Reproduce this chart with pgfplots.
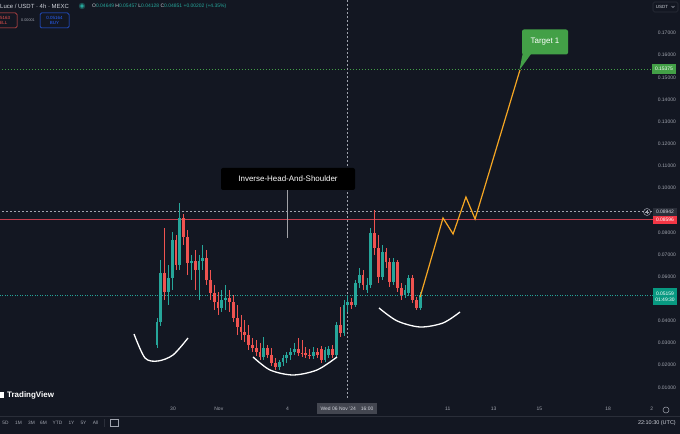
\documentclass[border=0pt]{standalone}
\usepackage{fontspec}
\setmainfont{Liberation Sans}
\usepackage{pgfplots}
\pgfplotsset{compat=1.18}
\usepackage{pgfplotstable}

\definecolor{bg}{RGB}{19,23,34}
\definecolor{up}{RGB}{38,166,154}
\definecolor{dn}{RGB}{239,83,80}
\definecolor{axtxt}{RGB}{160,164,174}
\definecolor{hdr}{RGB}{209,212,220}
\definecolor{orng}{RGB}{245,166,35}
\definecolor{tgt}{RGB}{67,160,71}
\definecolor{lvl}{RGB}{196,62,78}
\definecolor{sep}{RGB}{42,46,57}
\definecolor{buy}{RGB}{41,98,255}

% 4h candles, x in days from 30 Oct
\pgfplotstableread{
t o h l c
-0.700 0.02915 0.04134 0.02779 0.03953
-0.533 0.03953 0.06752 0.03772 0.06166
-0.200 0.05308 0.06527 0.04721 0.05940
-0.033 0.05940 0.08016 0.05398 0.07655
0.300 0.06527 0.09325 0.06301 0.08648
0.800 0.06617 0.06978 0.05849 0.06707
1.133 0.06301 0.06978 0.04946 0.06707
1.300 0.06707 0.07429 0.06301 0.06842
2.133 0.04585 0.05398 0.04404 0.04946
2.300 0.04946 0.05624 0.04495 0.05037
3.967 0.02373 0.03276 0.02238 0.02779
4.633 0.01921 0.02238 0.01786 0.02147
4.800 0.02147 0.02463 0.01967 0.02328
4.967 0.02328 0.02599 0.02102 0.02463
5.133 0.02463 0.02779 0.02238 0.02599
5.300 0.02599 0.03005 0.02463 0.02734
6.133 0.02418 0.02824 0.02283 0.02599
6.633 0.02238 0.02824 0.02147 0.02689
6.800 0.02463 0.02869 0.02328 0.02734
7.133 0.02463 0.03953 0.02328 0.03818
7.467 0.03456 0.04946 0.03321 0.04721
7.633 0.04721 0.05127 0.04404 0.04856
7.967 0.04721 0.05849 0.04630 0.05714
8.133 0.05714 0.06391 0.05488 0.06075
8.467 0.05398 0.05940 0.05263 0.05624
8.633 0.05624 0.08197 0.05488 0.07971
9.133 0.05985 0.07429 0.05849 0.07113
9.633 0.05759 0.06842 0.05624 0.06662
10.133 0.05172 0.05624 0.05037 0.05398
10.300 0.05263 0.06075 0.05127 0.05940
10.800 0.04585 0.05308 0.04495 0.05172
}\upc

\pgfplotstableread{
t o h l c
-0.367 0.06166 0.08197 0.04946 0.05308
0.133 0.07655 0.07880 0.06301 0.06527
0.467 0.08648 0.08829 0.07429 0.07790
0.633 0.07790 0.08106 0.06075 0.06617
0.967 0.06707 0.07203 0.05398 0.06301
1.467 0.06842 0.07203 0.05624 0.05849
1.633 0.05849 0.06301 0.04946 0.05263
1.800 0.05263 0.05624 0.04495 0.04856
1.967 0.04856 0.05308 0.04269 0.04585
2.467 0.05037 0.05398 0.04404 0.04856
2.633 0.04856 0.05172 0.03953 0.04134
2.800 0.04134 0.04721 0.03366 0.03727
2.967 0.03727 0.04269 0.03140 0.03502
3.133 0.03502 0.04043 0.03050 0.03366
3.300 0.03366 0.03818 0.02689 0.02915
3.467 0.02915 0.03231 0.02599 0.02779
3.633 0.02779 0.03140 0.02418 0.02599
3.800 0.02599 0.03005 0.02238 0.02373
4.133 0.02779 0.02915 0.02328 0.02463
4.300 0.02463 0.02779 0.01967 0.02102
4.467 0.02102 0.02328 0.01786 0.01921
5.467 0.02734 0.03231 0.02418 0.02553
5.633 0.02553 0.03140 0.02373 0.02508
5.800 0.02553 0.02824 0.02328 0.02463
5.967 0.02463 0.02734 0.02283 0.02418
6.300 0.02599 0.02779 0.02328 0.02463
6.467 0.02734 0.02869 0.02102 0.02238
6.967 0.02734 0.02915 0.02328 0.02463
7.300 0.03818 0.04630 0.03276 0.03456
7.800 0.04856 0.05037 0.04540 0.04721
8.300 0.06075 0.06301 0.05398 0.05624
8.800 0.07971 0.09009 0.06978 0.07294
8.967 0.07294 0.07880 0.05714 0.05985
9.300 0.07113 0.07294 0.06391 0.06662
9.467 0.06662 0.06842 0.05533 0.05759
9.800 0.06662 0.06752 0.05308 0.05488
9.967 0.05488 0.05714 0.04946 0.05172
10.467 0.05940 0.06075 0.04811 0.04946
10.633 0.04946 0.05082 0.04495 0.04585
}\dnc

\begin{document}
\begin{tikzpicture}[x=1bp,y=1bp]
\useasboundingbox (0,0) rectangle (680,434);
\clip (0,0) rectangle (680,434);
\fill[bg] (0,0) rectangle (680,434);

\begin{axis}[
  at={(0bp,34bp)}, anchor=south west,
  width=653bp, height=400bp, scale only axis,
  xmin=-7.555, xmax=20.96,
  ymin=0.00431, ymax=0.1849,
  axis line style={draw=none},
  major tick length=0pt,
  xtick={0,2,5,12,14,16,19,20.9},
  xticklabels={30,Nov,4,11,13,15,18,2},
  xticklabel style={inner sep=0pt, yshift=-7bp, text=axtxt, font=\fontsize{5}{6}\selectfont},
  ytick={0.01,0.02,0.03,0.04,0.06,0.07,0.08,0.10,0.11,0.12,0.13,0.14,0.15,0.16,0.17},
  yticklabel pos=right,
  scaled y ticks=false,
  yticklabel style={anchor=east, xshift=23bp, inner sep=0pt, text=axtxt,
    font=\fontsize{5}{6}\selectfont,
    /pgf/number format/.cd, fixed, fixed zerofill, precision=5, assume math mode=true},
  candle/.style={only marks, mark=*, mark size=0pt, mark options={draw=none, fill=none},
    error bars/.cd, y dir=plus, y explicit, error mark=none},
]
% level lines
\addplot[tgt, dash pattern=on 1.5bp off 1.5bp, line width=0.6bp] coordinates {(-8,0.15375) (22,0.15375)};
\addplot[axtxt, dash pattern=on 2bp off 2bp, line width=0.5bp] coordinates {(-8,0.08942) (22,0.08942)};
\addplot[lvl, line width=0.9bp] coordinates {(-8,0.08596) (22,0.08596)};
\addplot[up, dash pattern=on 1bp off 1.5bp, line width=0.5bp] coordinates {(-8,0.05159) (22,0.05159)};
\addplot[axtxt, dash pattern=on 2bp off 2bp, line width=0.5bp] coordinates {(7.6,0) (7.6,0.19)};

% wicks
\addplot[candle, error bar style={draw=up, line width=0.8bp}]
  table[x=t, y=l, y error expr=\thisrow{h}-\thisrow{l}] {\upc};
\addplot[candle, error bar style={draw=dn, line width=0.8bp}]
  table[x=t, y=l, y error expr=\thisrow{h}-\thisrow{l}] {\dnc};
% bodies
\addplot[candle, error bar style={draw=up, line width=2.8bp}]
  table[x=t, y=o, y error expr=\thisrow{c}-\thisrow{o}] {\upc};
\addplot[candle, error bar style={draw=dn, line width=2.8bp}]
  table[x=t, y=c, y error expr=\thisrow{o}-\thisrow{c}] {\dnc};

% hand-drawn shoulders and head
\addplot[white, line width=1.3bp, smooth] coordinates {
  (-1.703,0.03411) (-1.223,0.02327) (-0.655,0.02192) (0,0.02463) (0.655,0.03230)};
\addplot[white, line width=1.3bp, smooth] coordinates {
  (3.493,0.02373) (4.236,0.01786) (5.240,0.01560) (6.288,0.01786) (7.162,0.02373)};
\addplot[white, line width=1.3bp, smooth] coordinates {
  (8.996,0.04585) (9.782,0.04003) (10.786,0.03727) (11.790,0.03908) (12.533,0.04404)};

% projected path
\addplot[orng, line width=1.2bp] coordinates {
  (10.79,0.05082) (11.79,0.08648) (12.23,0.07925) (12.79,0.09596) (13.19,0.08603) (15.15,0.1533)};
\end{axis}

% callouts
\draw[white!60!bg, line width=0.6bp] (287,244) -- (287,196);
\node[fill=black, rounded corners=2bp, minimum width=134bp, minimum height=22bp, inner sep=0pt,
  text=white, font=\fontsize{8}{9}\selectfont] at (288,255) {Inverse-Head-And-Shoulder};
\fill[tgt] (523,382) -- (531,380) -- (519.5,364) -- cycle;
\node[fill=tgt, rounded corners=2bp, minimum width=46bp, minimum height=25bp, inner sep=0pt,
  text=white, font=\fontsize{8}{9}\selectfont] at (545,392) {Target 1};

% watermark
\fill[white] (0,36) rectangle (4,42);
\node[anchor=west, inner sep=0pt, text=white, font=\fontsize{8}{9}\selectfont\bfseries] at (7,39) {TradingView};

% price scale tags
\node[fill=tgt, text=white, inner sep=0pt, minimum width=24bp, minimum height=10bp,
  font=\fontsize{5}{6}\selectfont] at (664,365) {0.15375};
\node[fill=sep, text=hdr, inner sep=0pt, minimum width=24bp, minimum height=8bp,
  font=\fontsize{5}{6}\selectfont] at (665,222) {0.08942};
\draw[axtxt, line width=0.5bp] (647,222) circle (3.5bp);
\draw[axtxt, line width=0.5bp] (645.3,222) -- (648.7,222) (647,220.3) -- (647,223.7);
\node[fill={rgb,255:red,242;green,54;blue,69}, text=white, inner sep=0pt, minimum width=24bp, minimum height=8bp,
  font=\fontsize{5}{6}\selectfont] at (665,214) {0.08596};
\node[fill={rgb,255:red,8;green,153;blue,129}, text=white, inner sep=0pt, minimum width=24bp, minimum height=17bp,
  align=center, font=\fontsize{5}{6}\selectfont] at (665,137.5) {0.05159\\01:49:30};

% crosshair time tag
\node[fill={rgb,255:red,67;green,70;blue,80}, text=hdr, inner sep=0pt, minimum width=60bp, minimum height=11bp,
  font=\fontsize{5}{6}\selectfont] at (347,25) {Wed 06 Nov '24\quad 16:00};
\draw[axtxt, line width=0.5bp] (666,24) circle (3bp);

% bottom toolbar
\draw[sep, line width=0.8bp] (0,18) -- (680,18);
\begin{scope}[every node/.style={inner sep=0pt, text=axtxt, font=\fontsize{4.8}{5}\selectfont}]
\node at (5.5,11) {5D};
\node at (18.5,11) {1M};
\node at (31.5,11) {3M};
\node at (43.5,11) {6M};
\node at (57.5,11) {YTD};
\node at (71.5,11) {1Y};
\node at (83.5,11) {5Y};
\node at (95.5,11) {All};
\end{scope}
\draw[sep, line width=0.6bp] (104,7) -- (104,15);
\draw[axtxt, line width=0.5bp] (110,7.5) rectangle (118,14.5);
\node[anchor=east, inner sep=0pt, text=hdr, font=\fontsize{5.5}{6}\selectfont] at (676,11) {22:10:30 (UTC)};

% header
\node[anchor=west, inner sep=0pt, text=hdr, font=\fontsize{6}{7}\selectfont] at (0,428) {Luce / USDT · 4h · MEXC};
\fill[up!40!bg] (82,428) circle (3.2bp);
\fill[up] (82,428) circle (1.8bp);
\node[anchor=west, inner sep=0pt, font=\fontsize{5}{6}\selectfont] at (92,428)
  {\textcolor{hdr}{O}\textcolor{up}{0.04649} \textcolor{hdr}{H}\textcolor{up}{0.05457} \textcolor{hdr}{L}\textcolor{up}{0.04128} \textcolor{hdr}{C}\textcolor{up}{0.04851} \textcolor{up}{+0.00202 (+4.35\%)}};
\draw[dn, rounded corners=1.5bp, line width=0.5bp] (-13,406) rectangle (17,421);
\node[inner sep=0pt, text=dn, align=center, font=\fontsize{4.5}{5}\selectfont] at (2,413.5) {0.05163\\SELL};
\node[inner sep=0pt, text=axtxt, font=\fontsize{3.8}{4}\selectfont] at (28,414) {0.00001};
\draw[buy, rounded corners=1.5bp, line width=0.5bp] (40,406) rectangle (69,421);
\node[inner sep=0pt, text=buy, align=center, font=\fontsize{4.5}{5}\selectfont] at (54.5,413.5) {0.05164\\BUY};
\draw[sep, rounded corners=1.5bp, line width=0.6bp] (653,422) rectangle (678,432);
\node[inner sep=0pt, text=hdr, font=\fontsize{4.5}{5}\selectfont] at (662,427) {USDT};
\draw[axtxt, line width=0.4bp] (671.5,428) -- (673,426.5) -- (674.5,428);
\end{tikzpicture}
\end{document}
